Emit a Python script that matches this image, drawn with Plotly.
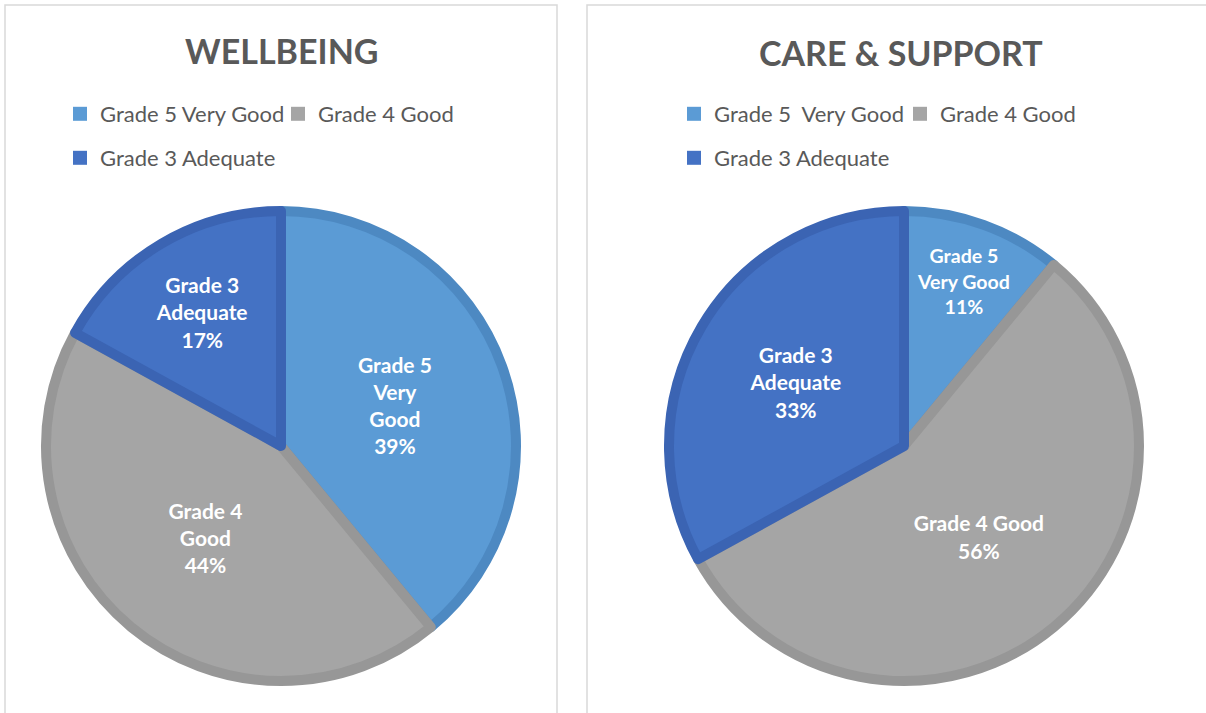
import plotly.graph_objects as go

# data
wellbeing_names = ['Grade 5 Very Good', 'Grade 4 Good', 'Grade 3 Adequate']
care_names = ['Grade 5  Very Good', 'Grade 4 Good', 'Grade 3 Adequate']
wellbeing_pct = [39, 44, 17]
care_pct = [11, 56, 33]
wellbeing_labels = ['Grade 5<br>Very<br>Good', 'Grade 4<br>Good', 'Grade 3<br>Adequate']
care_labels = ['Grade 5<br>Very Good', 'Grade 4 Good', 'Grade 3<br>Adequate']
titles = ['WELLBEING', 'CARE & SUPPORT']

fill_colors = ['#5b9bd5', '#a5a5a5', '#4472c4']
edge_colors = ['#4d89c2', '#979797', '#3b64b3']
W, H = 1206, 713
font = 'Lato, Open Sans, sans-serif'


def fx(x):
    return x / W


def fy(y):
    return 1 - y / H


R = 235  # pie radius in px (edge line adds the rest)
fig = go.Figure()


def pie(values, labels, names, cx, cy):
    return go.Pie(
        values=values,
        labels=names,
        text=labels,
        texttemplate='%{text}<br>%{percent:.0%}',
        textposition='inside',
        insidetextorientation='horizontal',
        textfont=dict(family=font, size=21, color='white', weight='bold'),
        marker=dict(colors=fill_colors, line=dict(color=edge_colors, width=10)),
        sort=False,
        direction='clockwise',
        rotation=0,
        showlegend=False,
        hoverinfo='label+percent',
        domain=dict(x=[fx(cx - R), fx(cx + R)], y=[fy(cy + R), fy(cy - R)]),
    )


fig.add_trace(pie(wellbeing_pct, wellbeing_labels, wellbeing_names, 281, 446))
fig.add_trace(pie(care_pct, care_labels, care_names, 904, 446))

# legend entries (two rows per panel)
rows = [
    (wellbeing_names, [[0, 1], [2]], ['legend', 'legend2']),
    (care_names, [[0, 1], [2]], ['legend3', 'legend4']),
]
for names, groups, legs in rows:
    for idx, leg in zip(groups, legs):
        for i in idx:
            fig.add_trace(go.Scatter(
                x=[None], y=[None], mode='markers', name=names[i], legend=leg,
                marker=dict(symbol='square', size=14, color=fill_colors[i],
                            line=dict(width=0)),
            ))

leg_style = dict(orientation='h', yanchor='middle', xanchor='left',
                 bgcolor='rgba(0,0,0,0)', itemclick=False, itemdoubleclick=False,
                 font=dict(family=font, size=22, color='#595959'))

fig.update_layout(
    width=W, height=H,
    margin=dict(l=0, r=0, t=0, b=0),
    paper_bgcolor='white', plot_bgcolor='white',
    xaxis=dict(visible=False), yaxis=dict(visible=False),
    legend=dict(x=fx(60), y=fy(114), entrywidth=173, **leg_style),
    legend2=dict(x=fx(60), y=fy(158), **leg_style),
    legend3=dict(x=fx(674), y=fy(114), entrywidth=181, **leg_style),
    legend4=dict(x=fx(674), y=fy(158), **leg_style),
    shapes=[
        dict(type='rect', xref='paper', yref='paper', x0=fx(5), x1=fx(557),
             y0=-0.1, y1=fy(5), line=dict(color='#d9d9d9', width=1.5), layer='below'),
        dict(type='rect', xref='paper', yref='paper', x0=fx(587), x1=1.1,
             y0=-0.1, y1=fy(5), line=dict(color='#d9d9d9', width=1.5), layer='below'),
    ],
    annotations=[
        dict(text=titles[0], x=fx(282), y=fy(50), xref='paper', yref='paper',
             xanchor='center', yanchor='middle', showarrow=False,
             font=dict(family=font, size=34, color='#595959', weight='bold')),
        dict(text=titles[1], x=fx(901), y=fy(52), xref='paper', yref='paper',
             xanchor='center', yanchor='middle', showarrow=False,
             font=dict(family=font, size=34, color='#595959', weight='bold')),
    ],
)

# drop the default page margin so the figure sits at the window's corner
fig.write_html('out.html', config={'displayModeBar': False},
               post_script="document.body.style.margin='0';")
